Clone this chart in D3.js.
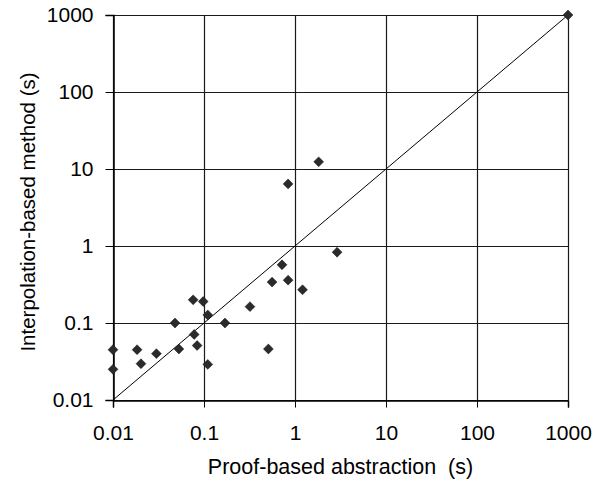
<!DOCTYPE html>
<html>
<head>
<meta charset="utf-8">
<script src="https://cdn.jsdelivr.net/npm/d3@7"></script>
<style>
  body { margin: 0; background: #fff; }
  svg text { font-family: "Liberation Sans", Arial, sans-serif; fill: #000; }
</style>
</head>
<body>
<div id="chart"></div>
<script>
// proof-based abstraction time (s) vs interpolation-based time (s)
const proofTimes = [1.82, 0.84, 2.9, 0.72, 0.56, 0.84, 1.21, 0.32, 0.076, 0.098, 0.11, 0.17,
  0.048, 0.078, 0.084, 0.053, 0.51, 0.11, 0.01, 0.01, 0.0184, 0.0203, 0.030, 1000];
const interpTimes = [12.4, 6.4, 0.83, 0.57, 0.34, 0.36, 0.27, 0.163, 0.2, 0.19, 0.127, 0.1,
  0.1, 0.071, 0.051, 0.046, 0.046, 0.029, 0.045, 0.025, 0.045, 0.0296, 0.040, 1000];
const tickValues = [0.01, 0.1, 1, 10, 100, 1000];

const width = 606, height = 485;
const margin = {left: 113, right: 38, top: 15, bottom: 85};

const svg = d3.select('#chart').append('svg')
  .attr('width', width)
  .attr('height', height);

const x = d3.scaleLog().domain([0.01, 1000]).range([margin.left, width - margin.right]);
const y = d3.scaleLog().domain([0.01, 1000]).range([height - margin.bottom, margin.top]);

const fmt = d => String(d);

// grid
const grid = svg.append('g').attr('stroke', '#1a1a1a').attr('stroke-width', 1.2);
grid.selectAll('line.v').data(tickValues).enter().append('line')
  .attr('x1', d => Math.round(x(d)) + 0.5).attr('x2', d => Math.round(x(d)) + 0.5)
  .attr('y1', y(0.01)).attr('y2', y(1000));
grid.selectAll('line.h').data(tickValues).enter().append('line')
  .attr('y1', d => Math.round(y(d)) + 0.5).attr('y2', d => Math.round(y(d)) + 0.5)
  .attr('x1', x(0.01)).attr('x2', x(1000));

// axes
const xAxis = svg.append('g')
  .attr('transform', `translate(0,${Math.round(y(0.01)) + 0.5})`)
  .call(d3.axisBottom(x).tickValues(tickValues).tickFormat(fmt).tickSize(7).tickPadding(18));
const yAxis = svg.append('g')
  .attr('transform', `translate(${Math.round(x(0.01)) + 0.5},0)`)
  .call(d3.axisLeft(y).tickValues(tickValues).tickFormat(fmt).tickSize(8).tickPadding(12));
[xAxis, yAxis].forEach(a => {
  a.select('.domain').attr('stroke-width', 1.5);
  a.selectAll('text').attr('font-size', 21).attr('font-family', '"Liberation Sans", Arial, sans-serif');
  a.selectAll('.tick line').attr('stroke', '#000');
});

// diagonal y = x
svg.append('line')
  .attr('x1', x(0.01)).attr('y1', y(0.01))
  .attr('x2', x(1000)).attr('y2', y(1000))
  .attr('stroke', '#000').attr('stroke-width', 1);

// points
const pts = proofTimes.map((p, i) => [p, interpTimes[i]]);
svg.append('g').selectAll('path').data(pts).enter().append('path')
  .attr('d', d3.symbol().type(d3.symbolDiamond2).size(62))
  .attr('transform', d => `translate(${x(d[0])},${y(d[1])})`)
  .attr('fill', '#2b2b2b')
  .attr('stroke', '#111')
  .attr('stroke-width', 0.5);

// axis titles
svg.append('text')
  .attr('x', (x(0.01) + x(1000)) / 2)
  .attr('y', 474)
  .attr('text-anchor', 'middle')
  .attr('font-size', 21.5)
  .style('white-space', 'pre')
  .text('Proof-based abstraction  (s)');

svg.append('text')
  .attr('transform', 'translate(35,212) rotate(-90)')
  .attr('text-anchor', 'middle')
  .attr('font-size', 20.5)
  .text('Interpolation-based method (s)');
</script>
</body>
</html>
